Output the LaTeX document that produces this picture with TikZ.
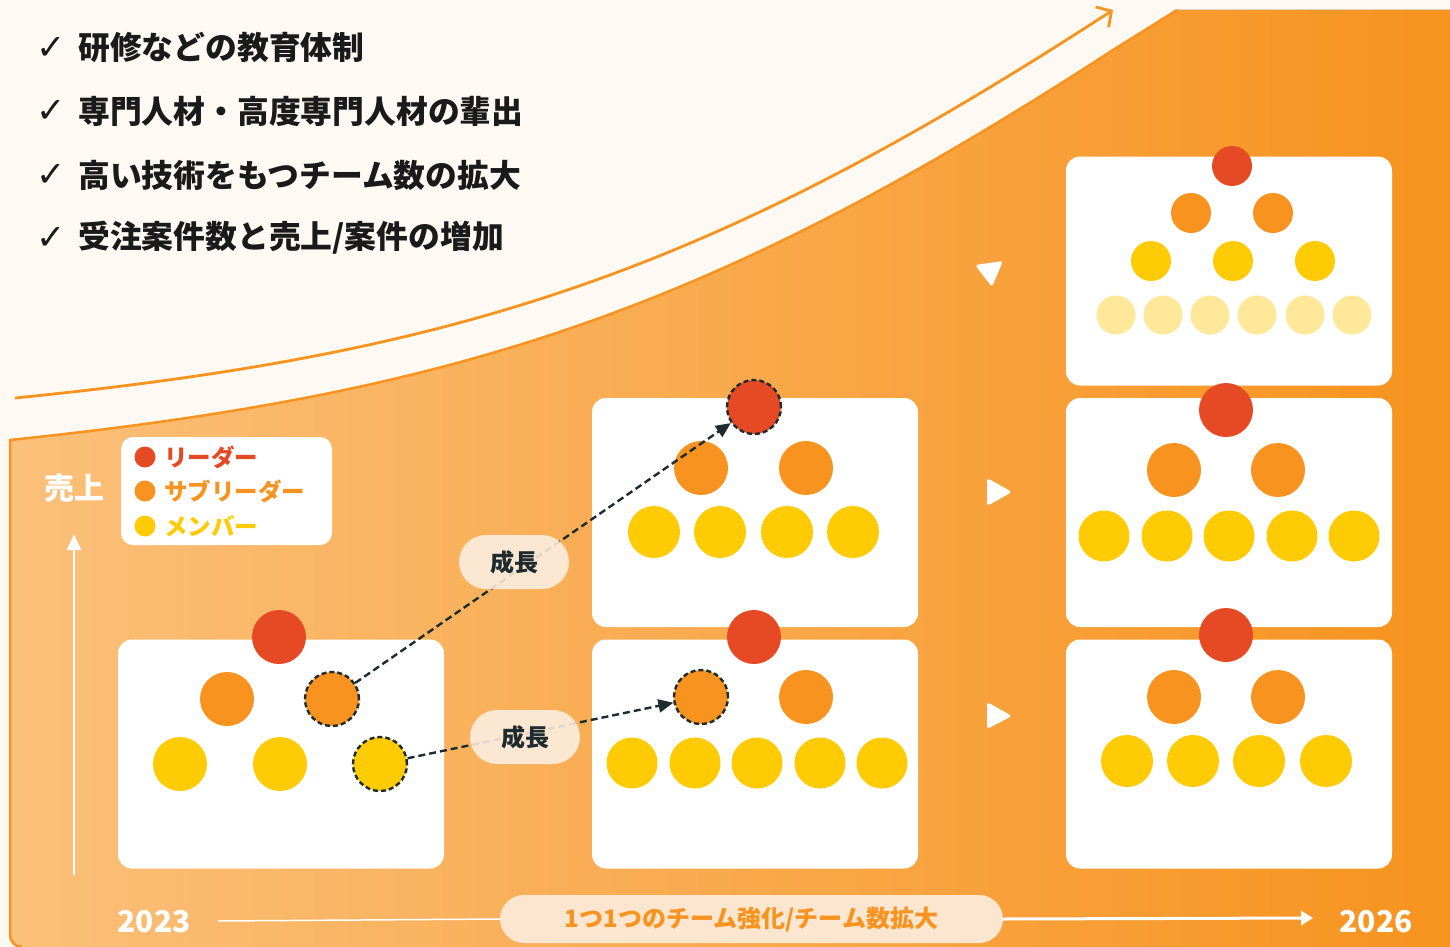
\documentclass[tikz,border=0pt]{standalone}
\usepackage{fontspec}
\setmainfont{Noto Sans CJK JP}
\newfontfamily\dejavu{DejaVu Sans}
\usetikzlibrary{arrows.meta,shapes.geometric}
\definecolor{cream}{HTML}{FEF9F2}
\definecolor{orL}{HTML}{FBC07A}
\definecolor{orR}{HTML}{F7931E}
\definecolor{org}{HTML}{F7931E}
\definecolor{redc}{HTML}{E54A24}
\definecolor{yel}{HTML}{FFCB05}
\definecolor{pale}{HTML}{FFE899}
\definecolor{ink}{HTML}{1E2B2F}
\definecolor{pill}{HTML}{FDF0E3}
\definecolor{pillB}{HTML}{FDE6D0}
\definecolor{txt}{HTML}{1A1A1A}
\newcommand\myfs[1]{\fontsize{#1}{#1}\selectfont}
\begin{document}
\begin{tikzpicture}[x=1pt,y=-1pt,
  pbox/.style={draw=none, fill=white, rounded corners=14pt, minimum width=326pt, minimum height=229pt, inner sep=0pt},
  dot/.style={circle, inner sep=0pt, minimum size=#1, draw=none},
  dsh/.style={draw=ink, line width=2.4pt, dash pattern=on 5pt off 3pt},
  listtxt/.style={anchor=west, inner sep=0pt, text=txt, font=\myfs{31.8}\bfseries},
  chk/.style={inner sep=0pt, text=txt, font=\dejavu\bfseries\myfs{35}},
  legtxt/.style={anchor=west, inner sep=0pt, font=\myfs{23.5}\bfseries},
  growlbl/.style={rectangle, rounded corners=27pt, minimum width=110pt, minimum height=54pt, fill=pill, fill opacity=0.88, text opacity=1, text=ink, font=\myfs{24}\bfseries},
  bpill/.style={rectangle, rounded corners=24pt, minimum width=503pt, minimum height=48pt, fill=pillB, text=org, font=\myfs{24}\bfseries, inner sep=0pt},
  yr/.style={text=white, font=\myfs{30}\bfseries, inner sep=0pt},
  dasharr/.style={ink, line width=2.4pt, dash pattern=on 7pt off 4pt, -{Triangle[length=15pt,width=13pt]}},
  tri/.style={fill=white, rounded corners=3pt}
]
\useasboundingbox (0,0) rectangle (1450,947);
\fill[cream] (0,0) rectangle (1450,947);

% orange region
\fill[left color=orL, right color=orR] (10,440) .. controls (460,393) and (713,310) .. (1113,50) -- (1177,10) -- (1450,10) -- (1450,947) -- (22,947) arc[start angle=90, end angle=180, radius=12] -- cycle;
\draw[org, line width=2.5pt] (22,947) arc[start angle=90, end angle=180, radius=12] -- (10,440) .. controls (460,393) and (713,310) .. (1113,50) -- (1177,10);

% upper growth arrow
\coordinate (upS) at (15,398);
\coordinate (upE) at (1113,10);
\draw[org, line width=2.8pt, -{Straight Barb[length=11pt,width=24pt]}] (upS) .. controls (465,353) and (713,270) .. (upE);

% list
\node[chk] (c1) at (51,48) {✓};
\node[listtxt] (l1) at (78,48) {研修などの教育体制};
\node[chk] (c2) at (51,111) {✓};
\node[listtxt] (l2) at (78,111) {専門人材・高度専門人材の輩出};
\node[chk] (c3) at (51,175) {✓};
\node[listtxt] (l3) at (78,175) {高い技術をもつチーム数の拡大};
\node[chk] (c4) at (51,238) {✓};
\node[listtxt] (l4) at (78,238) {受注案件数と売上/案件の増加};

% legend
\node[draw=none, fill=white, rounded corners=12pt, minimum width=211pt, minimum height=108pt] (leg) at (226.5,491) {};
\node[dot=21pt, fill=redc] (lg1) at (145,457) {};
\node[legtxt, text=redc] (lt1) at (164,457) {リーダー};
\node[dot=21pt, fill=org] (lg2) at (145,491) {};
\node[legtxt, text=org] (lt2) at (164,491) {サブリーダー};
\node[dot=21pt, fill=yel] (lg3) at (145,526) {};
\node[legtxt, text=yel] (lt3) at (164,526) {メンバー};

% y axis
\node[text=white, font=\myfs{30}\bfseries, inner sep=0pt] (uri) at (74,488) {売上};
\coordinate (vb) at (74,875);
\coordinate (vt) at (74,534);
\draw[white, line width=2.5pt, -{Triangle[length=16pt,width=14pt]}] (vb) -- (vt);

% boxes
\node[pbox] (B1) at (281,754) {};
\node[pbox] (B2) at (755,512.5) {};
\node[pbox] (B3) at (755,754) {};
\node[pbox] (B4) at (1229,271) {};
\node[pbox] (B5) at (1229,512.5) {};
\node[pbox] (B6) at (1229,754) {};

% box 1
\node[dot=54pt, fill=redc] (b1r) at (279,637) {};
\node[dot=54pt, fill=org] (b1o1) at (227,699) {};
\node[dot=54pt, fill=org, dsh] (b1o2) at (332,699) {};
\node[dot=54pt, fill=yel] (b1y1) at (180,764) {};
\node[dot=54pt, fill=yel] (b1y2) at (280,764) {};
\node[dot=54pt, fill=yel, dsh] (b1y3) at (380,764) {};

% box 2
\node[dot=54pt, fill=redc, dsh] (b2r) at (754,407) {};
\node[dot=54pt, fill=org] (b2o1) at (701,468) {};
\node[dot=54pt, fill=org] (b2o2) at (806,468) {};
\foreach \x [count=\i] in {654,720,787,853} \node[dot=52pt, fill=yel] (b2y\i) at (\x,532) {};

% box 3
\node[dot=54pt, fill=redc] (b3r) at (754,637) {};
\node[dot=54pt, fill=org, dsh] (b3o1) at (701,697) {};
\node[dot=54pt, fill=org] (b3o2) at (806,697) {};
\foreach \x [count=\i] in {632,695,757,820,882} \node[dot=51pt, fill=yel] (b3y\i) at (\x,763) {};

% box 4
\node[dot=40pt, fill=redc] (b4r) at (1232,166) {};
\node[dot=40pt, fill=org] (b4o1) at (1191,213) {};
\node[dot=40pt, fill=org] (b4o2) at (1273,213) {};
\foreach \x [count=\i] in {1151,1233,1315} \node[dot=40pt, fill=yel] (b4y\i) at (\x,261) {};
\foreach \x [count=\i] in {1116,1163,1210,1257,1305,1352} \node[dot=39pt, fill=pale] (b4p\i) at (\x,315) {};

% box 5
\node[dot=54pt, fill=redc] (b5r) at (1226,410) {};
\node[dot=54pt, fill=org] (b5o1) at (1174,470) {};
\node[dot=54pt, fill=org] (b5o2) at (1278,470) {};
\foreach \x [count=\i] in {1104,1167,1229,1292,1354} \node[dot=51pt, fill=yel] (b5y\i) at (\x,536) {};

% box 6
\node[dot=54pt, fill=redc] (b6r) at (1226,635) {};
\node[dot=54pt, fill=org] (b6o1) at (1174,697) {};
\node[dot=54pt, fill=org] (b6o2) at (1278,697) {};
\foreach \x [count=\i] in {1127,1193,1259,1326} \node[dot=52pt, fill=yel] (b6y\i) at (\x,761) {};

% triangles
\fill[tri] (975,265) -- (1003,261) -- (992,287) -- cycle;
\fill[tri] (987,478) -- (1012,492) -- (987,506) -- cycle;
\fill[tri] (987,702) -- (1012,716) -- (987,729) -- cycle;

% growth arrows
\draw[dasharr] (b1o2) -- (b2r);
\draw[dasharr] (b1y3) -- (b3o1);
\node[growlbl] (g1) at (514,562) {成長};
\node[growlbl] (g2) at (525,737) {成長};

% bottom axis
\node[bpill] (axl) at (751.5,919) {1つ1つのチーム強化/チーム数拡大};
\node[yr] (y23) at (154,922) {2023};
\node[yr] (y26) at (1376,922) {2026};
\coordinate (axL) at (218,921);
\coordinate (axR) at (1313,918);
\draw[white, line width=1.5pt] (axL) -- (axl.west);
\draw[white, line width=3pt, -{Triangle[length=12pt,width=14pt]}] (axl.east) -- (axR);
\end{tikzpicture}
\end{document}
